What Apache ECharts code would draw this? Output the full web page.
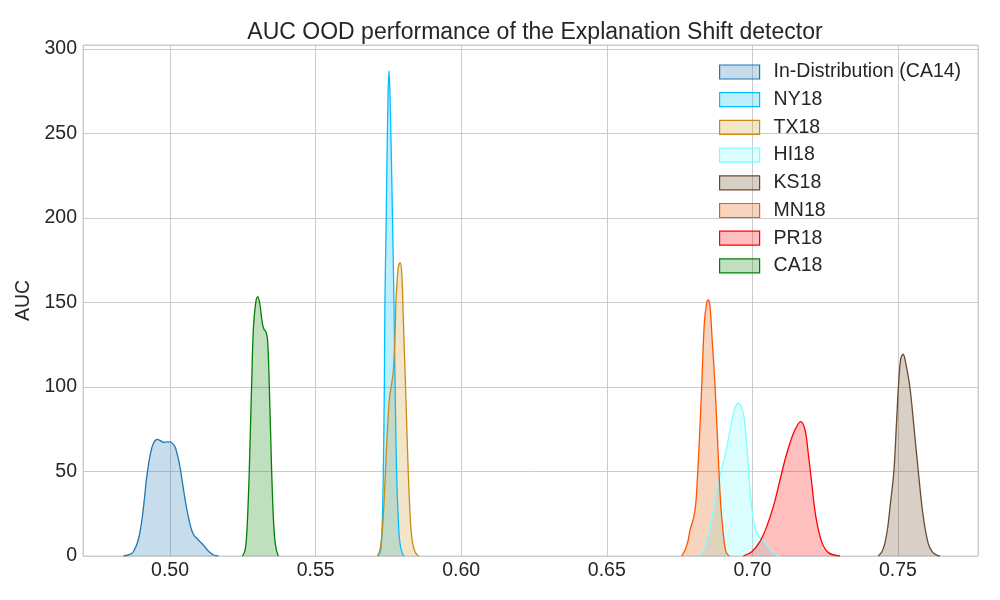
<!DOCTYPE html>
<html>
<head>
<meta charset="utf-8">
<title>AUC OOD performance</title>
<script src="https://cdn.jsdelivr.net/npm/echarts@6/dist/echarts.min.js"></script>
<style>
  html, body { margin: 0; padding: 0; background: #fff; }
  #chart { width: 1000px; height: 600px; }
</style>
</head>
<body>
<div id="chart"></div>
<script>
// KDE curves, [auc, density]
const ca14 = [[0.4840,0],[0.4862,1],[0.4874,2.5],[0.4890,9],[0.4903,21],[0.4912,34],[0.4920,47],[0.4932,60],[0.4943,66.7],[0.4956,69],[0.4967,68.3],[0.4977,67.3],[0.4990,67.5],[0.5000,67.5],[0.5009,66.5],[0.5017,64.7],[0.5025,60],[0.5034,52.9],[0.5043,43],[0.5052,33],[0.5063,23],[0.5074,15.4],[0.5083,12],[0.5092,10.5],[0.5103,8.5],[0.5114,6.5],[0.5125,4.2],[0.5137,2],[0.5150,0.6],[0.5166,0]]
const ny18 = [[0.5712,0],[0.5719,1],[0.5724,4],[0.5728,15],[0.5731,35],[0.5733,55],[0.5736,100],[0.5738,150],[0.5742,195],[0.5746,245],[0.5749,275],[0.5752,287],[0.5755,275],[0.5759,245],[0.5764,200],[0.5769,150],[0.5773,100],[0.5778,50],[0.5783,25],[0.5788,10],[0.5795,3],[0.5803,0]]
const tx18 = [[0.5712,0],[0.5720,3],[0.5727,11.4],[0.5733,25],[0.5738,43],[0.5746,72.6],[0.5753,92.3],[0.5761,102],[0.5766,108],[0.5769,116],[0.5773,132],[0.5776,151.5],[0.5780,163],[0.5784,171],[0.5790,173.6],[0.5796,167],[0.5801,141.7],[0.5805,120],[0.5809,100],[0.5818,50],[0.5826,19.3],[0.5831,10],[0.5836,5.5],[0.5843,2],[0.5853,0]]
const hi18 = [[0.6814,0],[0.6825,1.5],[0.6837,5.5],[0.6850,13],[0.6860,21.3],[0.6877,39],[0.6892,50],[0.6904,58],[0.6917,68.7],[0.6928,79],[0.6935,84.5],[0.6944,89],[0.6952,90.4],[0.6960,89],[0.6969,84.5],[0.6976,75],[0.6983,61],[0.6992,39],[0.7001,24],[0.7009,17],[0.7020,12],[0.7032,10],[0.7045,8],[0.7055,5.5],[0.7070,2],[0.7083,0.5],[0.7095,0]]
const ks18 = [[0.7432,0],[0.7445,2.5],[0.7455,7.5],[0.7465,17],[0.7473,29.2],[0.7486,50],[0.7495,78.5],[0.7503,104],[0.7510,117],[0.7518,119.4],[0.7527,114],[0.7541,100],[0.7555,76.5],[0.7570,50],[0.7587,23.3],[0.7604,7.5],[0.7618,2.5],[0.7633,0.5],[0.7644,0]]
const mn18 = [[0.6757,0],[0.6769,3.5],[0.6779,9],[0.6786,15.4],[0.6793,19.5],[0.6799,23.3],[0.6805,30],[0.6809,39],[0.6818,68.7],[0.6826,100],[0.6835,137.7],[0.6843,149.6],[0.6848,151.5],[0.6854,148.6],[0.6862,127.9],[0.6872,100],[0.6883,58.8],[0.6891,31.2],[0.6900,13.4],[0.6906,5],[0.6912,1.6],[0.6921,0]]
const pr18 = [[0.6969,0],[0.6998,2.5],[0.7026,8.5],[0.7049,17.3],[0.7072,29.2],[0.7095,45],[0.7112,56.8],[0.7129,66.7],[0.7146,74.6],[0.7166,79.5],[0.7181,74.6],[0.7192,60.8],[0.7204,43],[0.7218,23.3],[0.7238,8.5],[0.7261,2],[0.7301,0]]
const ca18 = [[0.5248,0],[0.5255,2],[0.5260,6],[0.5264,15],[0.5268,30],[0.5272,50],[0.5276,75],[0.5280,100],[0.5286,134],[0.5294,149.6],[0.5301,153.5],[0.5308,149.6],[0.5317,137.7],[0.5323,134],[0.5329,132.8],[0.5335,127.9],[0.5341,100],[0.5349,50],[0.5355,22],[0.5360,9.5],[0.5366,3],[0.5372,0]]

const names = ['In-Distribution (CA14)', 'NY18', 'TX18', 'HI18', 'KS18', 'MN18', 'PR18', 'CA18']
const curves = [ca14, ny18, tx18, hi18, ks18, mn18, pr18, ca18]
const colors = ['#1f77b4', '#00bfff', '#cc8a14', '#7fffff', '#6b4a30', '#ff5500', '#ff0000', '#008000']
const fills = ['rgba(31,119,180,0.25)', 'rgba(0,191,255,0.25)', 'rgba(204,150,40,0.25)', 'rgba(110,255,255,0.25)',
  'rgba(101,67,33,0.25)', 'rgba(230,100,20,0.28)', 'rgba(255,0,0,0.25)', 'rgba(0,128,0,0.25)']

const FONT = 'Liberation Sans, Arial, sans-serif'
const TXT = '#262626'

const chart = echarts.init(document.getElementById('chart'))

const series = names.map((n, i) => ({
  name: n,
  type: 'line',
  data: curves[i],
  smooth: 0.35,
  showSymbol: false,
  symbol: 'none',
  lineStyle: { color: colors[i], width: 1.3 },
  itemStyle: { color: colors[i] },
  // opacity 1 here, the alpha lives in the rgba
  areaStyle: { color: fills[i], opacity: 1, origin: 'start' }
}))

chart.setOption({
  backgroundColor: '#fff',
  animation: false,
  title: {
    text: 'AUC OOD performance of the Explanation Shift detector',
    left: 530,
    top: 16,
    textAlign: 'center',
    textStyle: { fontFamily: FONT, fontSize: 23, fontWeight: 'normal', color: TXT }
  },
  grid: {
    left: 83, right: 22, top: 45, bottom: 44,
    show: true, borderColor: '#cccccc', borderWidth: 1, backgroundColor: '#fff'
  },
  legend: {
    orient: 'vertical',
    left: 714,
    top: 57,
    itemWidth: 40,
    itemHeight: 14,
    itemGap: 7.7,
    // legend boxes = fill + outline like matplotlib patches
    data: names.map((n, i) => ({
      name: n,
      icon: 'rect',
      itemStyle: { color: fills[i], borderColor: colors[i], borderWidth: 1.2 }
    })),
    textStyle: { fontFamily: FONT, fontSize: 19.5, color: TXT, lineHeight: 19.5, padding: [0, 0, 0, 9] }
  },
  xAxis: {
    type: 'value',
    min: 0.4701,
    max: 0.7775,
    splitNumber: 5,
    axisLine: { show: false },
    axisTick: { show: false },
    axisLabel: {
      showMinLabel: false, showMaxLabel: false, margin: 5,
      fontFamily: FONT, fontSize: 19.5, color: TXT,
      formatter: v => v.toFixed(2)
    },
    splitLine: { show: true, lineStyle: { color: '#cccccc', width: 1 } }
  },
  yAxis: {
    type: 'value',
    min: 0,
    max: 302.4,
    interval: 50,
    name: 'AUC',
    nameLocation: 'middle',
    nameGap: 45,
    nameTextStyle: { fontFamily: FONT, fontSize: 19.5, color: TXT },
    axisLine: { show: false },
    axisTick: { show: false },
    axisLabel: { showMaxLabel: false, margin: 6, fontFamily: FONT, fontSize: 19.5, color: TXT },
    splitLine: { show: true, lineStyle: { color: '#cccccc', width: 1 } }
  },
  series: series
})
</script>
</body>
</html>
